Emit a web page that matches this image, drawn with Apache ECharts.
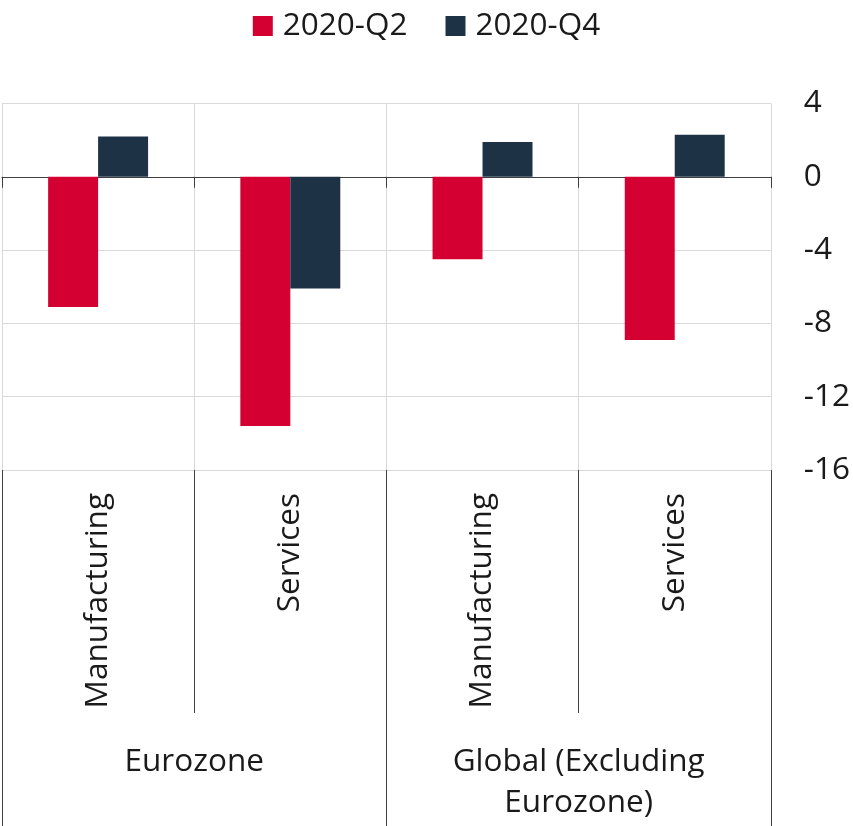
<!DOCTYPE html>
<html>
<head>
<meta charset="utf-8">
<script src="https://cdn.jsdelivr.net/npm/echarts@6/dist/echarts.min.js"></script>
<style>
  html, body { margin: 0; padding: 0; background: #fff; }
  #chart { width: 853px; height: 826px; }
</style>
</head>
<body>
<div id="chart"></div>
<script>
// data
var groups = ["Eurozone", "Global (Excluding\nEurozone)"];
var sectors = ["Manufacturing", "Services", "Manufacturing", "Services"];
var q2 = [-7.1, -13.6, -4.5, -8.9];
var q4 = [2.2, -6.1, 1.9, 2.3];
var seriesNames = ["2020-Q2", "2020-Q4"];

var font = "Open Sans";
var fs = 31.5;
var chart = echarts.init(document.getElementById("chart"));

// unique keys for the bar axis, labels drawn by the other two axes
var keys = sectors.map(function(s, i) { return i + "-" + s; });

chart.setOption({
  animation: false,
  textStyle: { fontFamily: font },
  legend: {
    top: 5,
    left: "center",
    itemWidth: 20,
    itemHeight: 20,
    itemGap: 38,
    icon: "rect",
    textStyle: { fontSize: fs, color: "#1a1a1a", fontFamily: font, padding: [0, 0, 0, 5] },
    data: seriesNames
  },
  grid: { left: 2, right: 79, top: 103.5, bottom: 356 },
  xAxis: [
    {
      type: "category",
      data: keys,
      position: "bottom",
      axisLine: { onZero: true, lineStyle: { color: "#404040", width: 1 } },
      axisTick: { show: true, length: 11, lineStyle: { color: "#404040" } },
      axisLabel: { show: false },
      splitLine: { show: true, lineStyle: { color: "#d9d9d9", width: 1 } }
    },
    {
      type: "category",
      data: sectors,
      position: "bottom",
      axisLine: { show: false, onZero: false },
      axisTick: { show: true, length: 243, lineStyle: { color: "#404040" } },
      axisLabel: { rotate: 90, margin: 23, fontSize: fs, color: "#1a1a1a", fontFamily: font },
      splitLine: { show: false }
    },
    {
      type: "category",
      data: groups,
      position: "bottom",
      axisLine: { show: false, onZero: false },
      axisTick: { show: true, length: 356, lineStyle: { color: "#404040" } },
      axisLabel: {
        margin: 272,
        fontSize: fs,
        lineHeight: 41,
        verticalAlign: "top",
        color: "#1a1a1a",
        fontFamily: font
      },
      splitLine: { show: false }
    }
  ],
  yAxis: {
    type: "value",
    position: "right",
    min: -16,
    max: 4,
    interval: 4,
    axisLine: { show: false },
    axisTick: { show: false },
    axisLabel: { margin: 33, fontSize: fs, color: "#1a1a1a", fontFamily: font },
    splitLine: { lineStyle: { color: "#d9d9d9", width: 1 } }
  },
  series: [
    {
      name: seriesNames[0],
      type: "bar",
      xAxisIndex: 0,
      data: q2,
      barGap: "0%",
      barCategoryGap: "48%",
      itemStyle: { color: "#d50032" }
    },
    {
      name: seriesNames[1],
      type: "bar",
      xAxisIndex: 0,
      data: q4,
      barGap: "0%",
      barCategoryGap: "48%",
      itemStyle: { color: "#1e3246" }
    }
  ]
});
</script>
</body>
</html>
